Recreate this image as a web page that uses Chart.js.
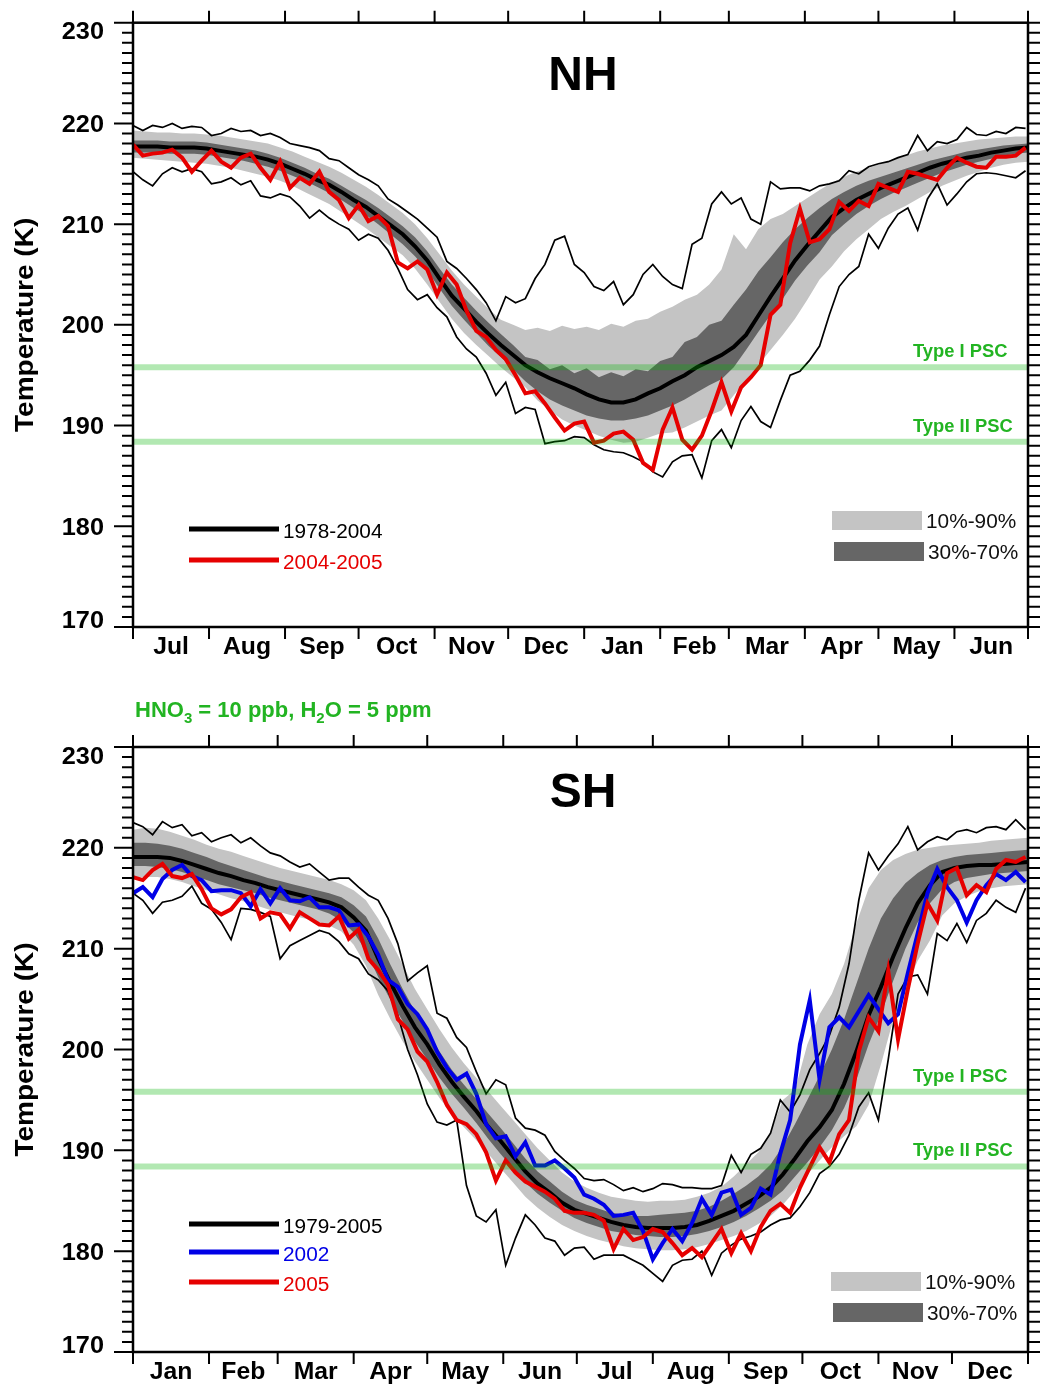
<!DOCTYPE html>
<html>
<head>
<meta charset="utf-8">
<script src="https://cdn.jsdelivr.net/npm/chart.js@4/dist/chart.umd.min.js"></script>
<style>
  body { margin: 0; background: #fff; }
  #wrap { position: relative; width: 1040px; height: 1385px; }
  canvas { position: absolute; left: 0; }
</style>
</head>
<body>
<div id="wrap">
  <canvas id="nh" width="1040" height="690" style="top:0"></canvas>
  <canvas id="sh" width="1040" height="695" style="top:690px"></canvas>
</div>
<script>
// x grids (day of the plotted year)
const bandDays = Array.from({ length: 74 }, (_, i) => i * 5);
const lineDays = Array.from({ length: 92 }, (_, i) => i * 4);

const nhMonths = ["Jul", "Aug", "Sep", "Oct", "Nov", "Dec", "Jan", "Feb", "Mar", "Apr", "May", "Jun"];
const nhMonthDays = [31, 31, 30, 31, 30, 31, 31, 28, 31, 30, 31, 30];
const shMonths = ["Jan", "Feb", "Mar", "Apr", "May", "Jun", "Jul", "Aug", "Sep", "Oct", "Nov", "Dec"];
const shMonthDays = [31, 28, 31, 30, 31, 30, 31, 31, 30, 31, 30, 31];

const yTicks = [170, 180, 190, 200, 210, 220, 230];
const pscLevels = [195.8, 188.4];
const pscLabels = ["Type I PSC", "Type II PSC"];

// ---- NH (5-day grid) ----
const nhMean = [217.7, 217.7, 217.7, 217.6, 217.6, 217.6, 217.5, 217.3, 217.1, 216.9,
  216.7, 216.4, 216.0, 215.5, 215.0, 214.4, 213.9, 213.2, 212.4, 211.7,
  210.8, 209.9, 209.0, 207.8, 206.4, 204.6, 202.9, 201.6, 200.3, 199.1,
  198.0, 197.0, 196.0, 195.3, 194.7, 194.2, 193.7, 193.1, 192.6, 192.3,
  192.3, 192.6, 193.2, 193.7, 194.4, 195.0, 195.8, 196.4, 197.0, 197.8,
  199.0, 200.9, 202.8, 204.6, 206.4, 207.9, 209.3, 210.7, 211.6, 212.4,
  213.0, 213.6, 214.1, 214.6, 215.1, 215.6, 216.0, 216.3, 216.6, 216.8,
  217.1, 217.3, 217.5, 217.6];
const nhP90 = [219.3, 219.2, 219.1, 219.1, 219.0, 219.0, 218.9, 218.8, 218.6, 218.4,
  218.2, 218.0, 217.6, 217.2, 216.7, 216.2, 215.7, 215.1, 214.4, 213.7,
  212.9, 212.0, 211.1, 210.0, 208.6, 207.0, 205.4, 204.0, 202.8, 201.6,
  200.5, 200.0, 199.5, 199.7, 199.4, 199.9, 199.6, 199.8, 199.5, 200.1,
  199.8, 200.4, 200.6, 201.3, 201.8, 202.5, 203.0, 204.0, 205.5, 209.0,
  207.5, 209.5, 210.5, 211.0, 211.8, 212.6, 213.4, 214.1, 214.7, 215.2,
  215.6, 216.0, 216.4, 216.8, 217.2, 217.5, 217.8, 218.0, 218.2, 218.4,
  218.5, 218.6, 218.7, 218.7];
const nhP70 = [218.3, 218.3, 218.3, 218.2, 218.2, 218.2, 218.1, 217.9, 217.7, 217.5,
  217.3, 217.0, 216.6, 216.1, 215.6, 215.0, 214.5, 213.8, 213.1, 212.4,
  211.6, 210.7, 209.8, 208.7, 207.3, 205.6, 204.0, 202.7, 201.4, 200.2,
  199.1, 198.0, 196.8, 196.5, 195.6, 196.0, 195.2, 195.7, 194.8, 195.3,
  194.9, 195.6, 195.4, 196.4, 196.8, 198.3, 198.8, 200.0, 200.4, 202.0,
  203.5, 205.3, 206.7, 208.2, 209.5, 210.6, 211.6, 212.5, 213.2, 213.8,
  214.3, 214.7, 215.1, 215.5, 215.9, 216.3, 216.6, 216.9, 217.2, 217.4,
  217.6, 217.8, 217.9, 218.0];
const nhP30 = [217.1, 217.1, 217.1, 217.0, 217.0, 217.0, 216.9, 216.7, 216.5, 216.3,
  216.0, 215.7, 215.3, 214.8, 214.3, 213.7, 213.1, 212.4, 211.6, 210.9,
  210.0, 209.0, 208.0, 206.8, 205.4, 203.6, 201.9, 200.5, 199.2, 197.9,
  196.8, 195.6, 194.4, 193.4, 192.6, 192.0, 191.5, 191.0, 190.7, 190.5,
  190.5, 190.7, 191.0, 191.5, 192.0, 192.6, 193.3, 194.0, 194.6, 195.8,
  197.5, 199.3, 201.0, 202.6, 204.4, 205.9, 207.2, 208.9, 210.0, 211.0,
  211.8, 212.5, 213.1, 213.6, 214.1, 214.6, 215.1, 215.5, 215.9, 216.2,
  216.5, 216.8, 217.0, 217.1];
const nhP10 = [216.6, 216.5, 216.4, 216.3, 216.2, 216.1, 216.0, 215.8, 215.6, 215.3,
  215.0, 214.7, 214.3, 213.8, 213.2, 212.6, 212.0, 211.2, 210.4, 209.6,
  208.7, 207.8, 206.9, 205.6, 204.0, 202.3, 200.6, 199.2, 198.0, 196.9,
  195.8, 194.8, 193.8, 192.5, 191.5, 190.6, 190.0, 189.5, 189.0, 188.6,
  188.3, 188.4, 188.8, 189.2, 189.3, 189.8, 190.4, 191.0, 191.5, 193.0,
  194.5, 196.0, 197.5, 199.0, 200.6, 202.5, 204.5, 205.8, 207.3, 208.5,
  209.5, 210.5, 211.2, 211.8, 212.5, 213.2, 213.8, 214.3, 214.8, 215.2,
  215.6, 215.9, 216.1, 216.2];

// ---- NH (4-day grid) ----
const nhMax = [219.8, 219.3, 219.8, 219.6, 220.0, 219.5, 219.7, 219.6, 218.8, 219.0,
  219.5, 219.2, 219.3, 218.8, 219.0, 218.6, 218.0, 217.8, 217.6, 217.3,
  216.5, 216.3, 215.6, 214.9, 214.4, 213.8, 212.5, 211.9, 211.2, 210.5,
  209.6, 208.7, 206.3, 205.6, 204.6, 203.5, 202.2, 200.4, 202.8, 202.2,
  202.6, 204.6, 206.0, 208.4, 208.8, 206.0, 205.2, 203.8, 203.4, 204.3,
  202.0, 203.0, 205.0, 206.0, 204.8, 204.0, 203.6, 208.0, 208.6, 212.0,
  213.2, 212.0, 212.6, 210.5, 210.0, 214.2, 213.5, 213.6, 213.6, 213.3,
  213.8, 214.0, 214.3, 215.3, 215.0, 215.7, 216.0, 216.2, 216.6, 216.9,
  218.8, 217.3, 218.2, 218.0, 218.4, 219.6, 218.9, 218.8, 219.2, 219.0,
  219.6, 219.5];
const nhMin = [215.2, 214.4, 213.8, 215.0, 215.6, 215.2, 215.5, 215.2, 214.0, 214.2,
  214.6, 213.9, 214.3, 212.8, 212.6, 213.0, 212.7, 211.8, 210.6, 211.4,
  210.6, 210.0, 209.5, 208.4, 209.0, 208.6, 207.4, 205.6, 203.5, 202.5,
  203.0, 201.7, 200.8, 198.8, 197.6, 196.8, 195.2, 193.0, 194.3, 191.2,
  191.8, 191.6, 188.2, 188.4, 188.5, 188.9, 188.8, 188.1, 187.6, 187.4,
  187.3, 186.9, 186.4, 185.4, 184.9, 186.4, 187.0, 187.1, 184.8, 188.5,
  189.6, 187.8, 190.5, 191.9, 190.4, 189.8, 192.5, 195.0, 195.4, 196.5,
  197.9, 201.0, 203.8, 205.0, 205.8, 209.0, 207.6, 209.6, 211.0, 211.6,
  209.4, 212.5, 214.0, 211.9, 213.0, 214.2, 215.0, 215.1, 215.0, 214.8,
  214.6, 215.3];
const nh0405 = [217.9, 216.8, 217.0, 217.1, 217.4, 216.6, 215.2, 216.3, 217.3, 216.2,
  215.6, 216.6, 217.0, 215.6, 214.4, 216.2, 213.6, 214.6, 214.0, 215.2,
  213.2, 212.4, 210.6, 211.9, 210.3, 210.8, 209.8, 206.2, 205.6, 206.3,
  205.5, 203.0, 205.2, 204.0, 201.4, 199.4, 198.8, 197.5, 196.6, 195.0,
  193.2, 193.4, 192.2, 190.8, 189.5, 190.2, 190.4, 188.3, 188.5, 189.2,
  189.4, 188.6, 186.3, 185.6, 189.6, 191.8, 188.6, 187.6, 189.0, 191.5,
  194.3, 191.4, 193.8, 194.8, 196.0, 201.0, 202.0, 208.1, 211.5, 208.2,
  208.5, 209.5, 212.2, 211.3, 212.3, 211.8, 214.0, 213.6, 213.2, 215.2,
  215.0, 214.7, 214.4, 215.6, 216.6, 216.1, 215.7, 215.6, 216.7, 216.7,
  216.8, 217.6];

// ---- SH (5-day grid) ----
const shMean = [219.1, 219.1, 219.1, 219.0, 218.7, 218.3, 217.9, 217.5, 217.2, 216.8,
  216.5, 216.1, 215.8, 215.5, 215.2, 214.9, 214.6, 214.1, 213.1, 211.8,
  209.0, 206.6, 204.3, 202.2, 200.5, 198.5, 196.8, 195.3, 193.9, 192.3,
  190.9, 189.4, 187.9, 186.7, 185.8, 184.8, 184.1, 183.7, 183.3, 182.9,
  182.6, 182.4, 182.3, 182.3, 182.3, 182.4, 182.6, 183.0, 183.5, 184.0,
  184.7, 185.4, 186.3, 187.6, 189.2, 190.9, 192.3, 194.0, 196.6, 199.8,
  203.4, 206.2, 209.2, 212.0, 214.5, 216.3, 217.6, 218.0, 218.2, 218.3,
  218.3, 218.4, 218.5, 218.6];
const shP90 = [221.8, 222.0, 221.9, 221.6, 221.2, 220.8, 220.3, 219.9, 219.6, 219.2,
  218.8, 218.4, 218.0, 217.7, 217.4, 217.1, 216.8, 216.4, 215.8, 214.8,
  213.0, 210.8, 208.4, 206.0, 204.0, 202.0, 200.2, 198.6, 197.2, 195.8,
  194.4, 193.0, 191.6, 190.2, 189.0, 187.8, 186.9, 186.3, 185.8, 185.4,
  185.2, 185.0, 184.9, 185.0, 185.0, 185.1, 185.4, 185.8, 186.4, 187.4,
  188.6, 189.8, 191.8, 195.0, 196.0, 200.5, 203.5, 205.5, 208.5, 212.5,
  216.0, 217.8, 218.8, 219.4, 219.8, 220.0, 220.2, 220.3, 220.4, 220.5,
  220.7, 220.8, 220.9, 221.0];
const shP70 = [220.5, 220.5, 220.4, 220.2, 219.9, 219.5, 219.1, 218.6, 218.2, 217.8,
  217.4, 217.0, 216.7, 216.4, 216.1, 215.8, 215.5, 215.1, 214.3, 213.2,
  211.0, 208.4, 206.0, 203.8, 201.8, 199.8, 198.0, 196.5, 195.1, 193.6,
  192.2, 190.7, 189.2, 187.9, 186.9, 185.9, 185.1, 184.6, 184.2, 183.8,
  183.6, 183.5, 183.5, 183.6, 183.7, 183.8, 184.0, 184.4, 185.0, 185.7,
  186.5, 187.4, 188.6, 190.4, 192.6, 195.0, 197.4, 200.0, 203.0, 206.5,
  210.0, 213.0, 215.0, 216.5, 217.5, 218.3, 218.8, 219.1, 219.3, 219.4,
  219.5, 219.6, 219.7, 219.8];
const shP30 = [218.2, 218.2, 218.1, 217.9, 217.6, 217.2, 216.8, 216.4, 216.1, 215.8,
  215.5, 215.1, 214.8, 214.5, 214.2, 213.9, 213.5, 212.8, 211.6, 209.8,
  207.2, 204.9, 202.8, 200.8, 199.0, 197.2, 195.6, 194.2, 192.7, 191.1,
  189.6, 188.2, 186.8, 185.7, 184.8, 184.0, 183.3, 182.8, 182.4, 182.0,
  181.8, 181.6, 181.5, 181.4, 181.4, 181.5, 181.7, 182.0, 182.4, 182.9,
  183.5, 184.2, 185.0, 186.0, 187.4, 188.8, 190.3, 192.0, 194.2, 197.0,
  200.5, 203.5, 206.8, 210.0, 212.6, 214.5, 215.9, 216.6, 217.0, 217.2,
  217.4, 217.5, 217.6, 217.7];
const shP10 = [217.0, 217.1, 217.1, 216.9, 216.6, 216.2, 215.8, 215.4, 215.0, 214.7,
  214.3, 213.9, 213.6, 213.3, 213.0, 212.7, 212.3, 211.7, 210.4, 208.3,
  205.4, 203.0, 200.8, 198.8, 197.0, 195.2, 193.6, 192.3, 191.0, 189.6,
  188.2, 186.8, 185.4, 184.3, 183.4, 182.6, 182.0, 181.5, 181.1, 180.8,
  180.5, 180.3, 180.2, 180.1, 180.1, 180.2, 180.4, 180.7, 181.1, 181.5,
  182.0, 182.7, 183.5, 184.6, 186.0, 187.6, 189.0, 190.3, 191.4, 192.4,
  194.5, 198.5, 202.9, 206.0, 208.8, 210.8, 213.3, 214.5, 215.2, 215.7,
  216.0, 216.2, 216.3, 216.4];

// ---- SH (4-day grid) ----
const shMax = [222.5, 222.1, 221.3, 222.6, 222.0, 222.3, 221.2, 221.5, 220.6, 221.0,
  221.3, 220.5, 221.0, 220.2, 219.5, 219.2, 218.6, 218.1, 218.4, 217.6,
  216.8, 217.0, 217.0, 216.1, 215.3, 214.8, 213.0, 210.5, 206.8, 207.6,
  208.3, 203.6, 203.1, 201.2, 200.2, 197.8, 195.6, 197.0, 196.5, 193.2,
  192.2, 192.0, 191.5, 189.9, 189.0, 188.2, 187.2, 187.0, 187.1, 186.6,
  186.0, 186.3, 185.9, 186.2, 186.7, 186.6, 186.3, 186.3, 186.2, 186.2,
  186.5, 189.5, 187.8, 189.6, 190.2, 191.7, 195.0, 193.8, 195.5, 198.0,
  199.6, 201.4, 204.2, 208.5, 214.8, 219.5, 217.8, 219.2, 220.4, 222.1,
  219.8, 220.6, 221.1, 220.8, 221.6, 221.8, 221.5, 222.0, 222.1, 221.8,
  222.8, 221.8];
const shMin = [215.5, 214.8, 213.5, 214.6, 214.8, 215.2, 216.2, 214.5, 213.9, 212.6,
  210.9, 214.0, 213.9, 213.6, 213.2, 209.0, 210.3, 210.8, 211.3, 211.8,
  211.5, 210.7, 209.5, 209.0, 207.5, 206.9, 205.8, 203.4, 200.0, 197.5,
  194.6, 192.8, 192.5, 193.0, 186.5, 183.5, 182.9, 184.1, 178.6, 181.3,
  183.6, 182.6, 181.3, 181.0, 179.6, 180.3, 180.4, 179.2, 179.6, 179.6,
  179.6, 179.1, 178.6, 177.8, 177.0, 178.6, 179.1, 179.2, 180.0, 177.6,
  179.8, 180.6, 181.2, 181.5, 181.9, 182.6, 183.1, 183.3, 184.4, 185.8,
  187.7, 188.4, 189.6, 191.5, 194.3, 195.7, 193.0, 199.0, 205.5, 207.2,
  207.4, 205.5, 211.5, 210.8, 212.5, 210.6, 212.8, 213.5, 214.8, 214.1,
  213.6, 216.0];
const sh2002 = [215.5, 216.1, 215.1, 216.9, 217.8, 218.3, 217.2, 216.8, 215.7, 215.8,
  215.8, 215.5, 214.2, 215.9, 214.5, 216.0, 214.8, 214.7, 215.1, 214.1,
  214.1, 213.8, 212.3, 212.4, 211.2, 209.4, 206.9, 206.2, 204.5, 203.5,
  202.0, 199.8, 198.2, 197.0, 197.6, 195.6, 192.6, 191.2, 191.4, 189.4,
  190.8, 188.5, 188.5, 189.0, 188.2, 187.3, 185.6, 185.2, 184.6, 183.5,
  183.6, 183.8, 182.0, 179.2, 180.8, 182.2, 181.0, 182.8, 185.2, 183.6,
  185.8, 186.1, 183.6, 184.3, 186.2, 185.6, 189.7, 193.0, 200.5, 204.9,
  197.0, 202.2, 203.2, 202.2, 203.8, 205.4, 204.0, 202.6, 203.5, 207.6,
  211.5, 215.5, 217.9, 216.1, 214.8, 212.6, 214.8, 216.3, 217.4, 216.8,
  217.6, 216.6];
const sh2005 = [217.1, 216.8, 217.8, 218.4, 217.2, 217.0, 217.4, 215.9, 214.0, 213.4,
  213.9, 215.1, 215.6, 213.0, 213.6, 213.4, 212.0, 213.6, 213.0, 212.4,
  212.3, 213.2, 211.0, 211.9, 209.0, 207.9, 206.4, 203.0, 202.0, 199.8,
  198.8, 196.8, 194.5, 193.0, 192.6, 191.6, 189.8, 187.0, 189.0, 187.8,
  186.9, 186.4, 185.9, 185.2, 184.0, 183.8, 183.8, 183.6, 183.0, 180.2,
  182.2, 181.1, 181.4, 182.2, 181.9, 180.8, 179.6, 180.3, 179.4, 180.8,
  182.2, 179.8, 181.8, 180.0, 182.4, 184.0, 184.7, 183.8, 186.3, 188.3,
  190.3, 188.8, 191.6, 193.0, 199.8, 203.2, 201.8, 207.8, 201.0, 206.0,
  210.5, 214.5, 212.8, 217.5, 218.0, 215.3, 216.3, 215.6, 217.9, 218.8,
  218.6, 219.1];

const FONT = '"Liberation Sans", Arial, Helvetica, sans-serif';
const RED = "#e60000";
const BLUE = "#0000e6";
const LIGHT = "#c4c4c4";
const DARK = "#666666";
const GREEN_TXT = "#22b422";

const pts = (days, vals) => vals.map((v, i) => ({ x: days[i], y: v }));

function line(data, color, width) {
    return { data, borderColor: color, borderWidth: width, pointRadius: 0, fill: false, tension: 0 };
}
function band(data, fill, color) {
    return { data, borderWidth: 0, borderColor: "rgba(0,0,0,0)", pointRadius: 0, fill, backgroundColor: color, tension: 0 };
}
function green(level) {
    return line([{ x: 0, y: level }, { x: 365, y: level }], "rgba(0,180,0,0.3)", 6);
}

function txt(ctx, s, x, y, font, color, align, sx) {
    ctx.save();
    ctx.font = font;
    ctx.fillStyle = color;
    ctx.textAlign = align;
    ctx.textBaseline = "alphabetic";
    ctx.translate(x, y);
    ctx.scale(sx || 1, 1);
    ctx.fillText(s, 0, 0);
    ctx.restore();
}

// axes, frame, labels and the hand placed legends
const frame = {
    id: "frame",
    afterDatasetsDraw(chart, args, o) {
        const { ctx, chartArea: a, scales: { x, y } } = chart;
        ctx.save();
        ctx.strokeStyle = "#000";
        ctx.lineWidth = 2;
        ctx.beginPath();
        for (let v = 170; v <= 230; v++) {
            const py = y.getPixelForValue(v);
            const len = v % 10 === 0 ? 19 : 11;
            ctx.moveTo(a.left - len, py);
            ctx.lineTo(a.left, py);
            ctx.moveTo(a.right, py);
            ctx.lineTo(a.right + 12, py);
        }
        const edges = [0];
        o.monthDays.forEach((n) => edges.push(edges[edges.length - 1] + n));
        edges.forEach((d) => {
            const px = x.getPixelForValue(d);
            ctx.moveTo(px, a.top - 12);
            ctx.lineTo(px, a.top);
            ctx.moveTo(px, a.bottom);
            ctx.lineTo(px, a.bottom + 12);
        });
        ctx.stroke();
        ctx.lineWidth = 2.5;
        ctx.strokeRect(a.left, a.top, a.right - a.left, a.bottom - a.top);

        yTicks.forEach((v) => {
            let by = y.getPixelForValue(v) + 8.5;
            if (v === 230) by += 8;
            if (v === 170) by -= 8;
            txt(ctx, String(v), 104, by, "bold 23px " + FONT, "#000", "right", 1.1);
        });
        o.months.forEach((m, i) => {
            const cx = x.getPixelForValue((edges[i] + edges[i + 1]) / 2);
            txt(ctx, m, cx, a.bottom + 27, "bold 24px " + FONT, "#000", "center", 1.03);
        });

        // y title
        ctx.save();
        ctx.translate(33, (a.top + a.bottom) / 2);
        ctx.rotate(-Math.PI / 2);
        txt(ctx, "Temperature (K)", 0, 0, "bold 25px " + FONT, "#000", "center", 1.12);
        ctx.restore();

        txt(ctx, o.title, 583, o.titleY, "bold 48px " + FONT, "#000", "center", 1);

        pscLevels.forEach((lv, i) => {
            txt(ctx, pscLabels[i], 913, y.getPixelForValue(lv) - 10, "bold 18px " + FONT, GREEN_TXT, "left", 1.02);
        });

        o.legend.forEach((it) => {
            ctx.strokeStyle = it.color;
            ctx.lineWidth = 5;
            ctx.beginPath();
            ctx.moveTo(189, it.y);
            ctx.lineTo(279, it.y);
            ctx.stroke();
            txt(ctx, it.text, 283, it.y + 9, "20px " + FONT, it.color, "left", 1.04);
        });

        o.boxes.forEach((b) => {
            ctx.fillStyle = b.color;
            ctx.fillRect(b.x, b.y, 90, 19);
            txt(ctx, b.text, b.x + 94, b.y + 17, "20px " + FONT, "#111", "left", 1.04);
        });

        if (o.note) {
            let nx = 135;
            const by = o.note;
            const big = "bold 22px " + FONT;
            const small = "bold 15px " + FONT;
            [["HNO", 0], ["3", 1], [" = 10 ppb, H", 0], ["2", 1], ["O = 5 ppm", 0]].forEach(([s, sub]) => {
                ctx.font = sub ? small : big;
                txt(ctx, s, nx, by + (sub ? 6 : 0), ctx.font, GREEN_TXT, "left", 1);
                nx += ctx.measureText(s).width;
            });
        }
        ctx.restore();
    },
};

function makeChart(id, datasets, pad, opts) {
    return new Chart(document.getElementById(id), {
        type: "line",
        data: { datasets },
        options: {
            responsive: false,
            animation: false,
            layout: { padding: pad, autoPadding: false },
            scales: {
                x: { type: "linear", min: 0, max: 365, display: false },
                y: { min: 170, max: 230, display: false },
            },
            plugins: { legend: { display: false }, tooltip: { enabled: false }, frame: opts },
        },
        plugins: [frame],
    });
}

makeChart("nh", [
    green(pscLevels[0]),
    green(pscLevels[1]),
    line(pts(lineDays, nh0405), RED, 4),
    line(pts(bandDays, nhMean), "#000", 4),
    line(pts(lineDays, nhMax), "#000", 1.7),
    line(pts(lineDays, nhMin), "#000", 1.7),
    band(pts(bandDays, nhP30), false, null),
    band(pts(bandDays, nhP70), "-1", DARK),
    band(pts(bandDays, nhP10), false, null),
    band(pts(bandDays, nhP90), "-1", LIGHT),
], { left: 133, right: 12, top: 22.7, bottom: 63 }, {
    months: nhMonths,
    monthDays: nhMonthDays,
    title: "NH",
    titleY: 90,
    legend: [
        { text: "1978-2004", color: "#000", y: 529 },
        { text: "2004-2005", color: RED, y: 560 },
    ],
    boxes: [
        { text: "10%-90%", color: LIGHT, x: 832, y: 511 },
        { text: "30%-70%", color: DARK, x: 834, y: 542 },
    ],
    note: null,
});

makeChart("sh", [
    green(pscLevels[0]),
    green(pscLevels[1]),
    line(pts(lineDays, sh2005), RED, 4),
    line(pts(lineDays, sh2002), BLUE, 4),
    line(pts(bandDays, shMean), "#000", 4),
    line(pts(lineDays, shMax), "#000", 1.7),
    line(pts(lineDays, shMin), "#000", 1.7),
    band(pts(bandDays, shP30), false, null),
    band(pts(bandDays, shP70), "-1", DARK),
    band(pts(bandDays, shP10), false, null),
    band(pts(bandDays, shP90), "-1", LIGHT),
], { left: 133, right: 12, top: 57, bottom: 33 }, {
    months: shMonths,
    monthDays: shMonthDays,
    title: "SH",
    titleY: 117,
    legend: [
        { text: "1979-2005", color: "#000", y: 534 },
        { text: "2002", color: BLUE, y: 562 },
        { text: "2005", color: RED, y: 592 },
    ],
    boxes: [
        { text: "10%-90%", color: LIGHT, x: 831, y: 582 },
        { text: "30%-70%", color: DARK, x: 833, y: 613 },
    ],
    note: 27,
});
</script>
</body>
</html>
